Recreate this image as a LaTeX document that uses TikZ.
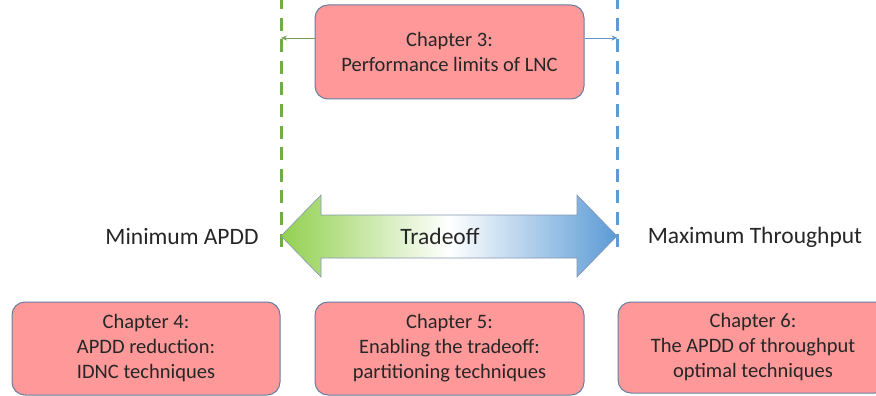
\documentclass[tikz,border=0pt]{standalone}
\usepackage{fontspec}
\setmainfont{Carlito}
\usetikzlibrary{arrows.meta}
\definecolor{boxfill}{RGB}{255,153,153}
\definecolor{boxline}{RGB}{105,125,160}
\definecolor{gline}{RGB}{112,173,71}
\definecolor{bline}{RGB}{91,155,213}
\definecolor{gfill}{RGB}{146,208,80}
\definecolor{bfill}{RGB}{91,155,213}
\tikzset{
  chapbox/.style={draw=boxline, line width=1pt, fill=boxfill, rounded corners=13pt,
    align=center, font=\fontsize{20.5}{25}\selectfont, text=black!85, inner sep=0pt},
  limitline/.style={line width=3pt, dash pattern=on 13pt off 8.6pt},
  pointer/.style={line width=0.6pt, -{Stealth[length=6pt,width=5pt]}},
  sidelabel/.style={font=\fontsize{23.5}{26}\selectfont, text=black!85}
}
\begin{document}
\begin{tikzpicture}[x=1pt,y=-1pt]
\useasboundingbox (0,0) rectangle (876,396);
\clip (0,0) rectangle (876,396);
\fill[white] (0,0) rectangle (876,396);

% dashed limit lines
\coordinate (gtop) at (281,-4);
\coordinate (gbot) at (281,250);
\coordinate (btop) at (617.5,-4);
\coordinate (bbot) at (617.5,250);
\draw[limitline, draw=gline] (gtop) -- (gbot);
\draw[limitline, draw=bline] (btop) -- (bbot);

% chapter 3 at the top
\node[chapbox, minimum width=269pt, minimum height=94pt] (c3) at (449.5,52)
  {Chapter 3:\\Performance limits of LNC};
\draw[pointer, draw=gline!70!gray] (c3.west |- 0,38) -- (gtop |- 0,38);
\draw[pointer, draw=bline!80!gray] (c3.east |- 0,38) -- (btop |- 0,38);

% tradeoff double arrow, green through white to blue
\shade[left color=gfill, right color=bfill, middle color=white, draw=boxline!80, line width=0.6pt]
  (281,236) -- (321,195) -- (321,215) -- (577,215) -- (577,195) -- (617,236)
  -- (577,277) -- (577,258) -- (321,258) -- (321,277) -- cycle;
\node[sidelabel] (trade) at (440,236) {Tradeoff};
\node[sidelabel] (minl) at (182,237) {Minimum APDD};
\node[sidelabel] (maxl) at (755,237) {Maximum Throughput};

% chapters 4 to 6 at the bottom
\node[chapbox, minimum width=268pt, minimum height=93pt] (c4) at (146,348.5)
  {Chapter 4:\\APDD reduction:\\IDNC techniques};
\node[chapbox, minimum width=269pt, minimum height=93pt] (c5) at (449.5,348.5)
  {Chapter 5:\\Enabling the tradeoff:\\partitioning techniques};
\node[chapbox, minimum width=270pt, minimum height=91pt] (c6) at (753,347.5)
  {Chapter 6:\\The APDD of throughput\\optimal techniques};
\end{tikzpicture}
\end{document}
